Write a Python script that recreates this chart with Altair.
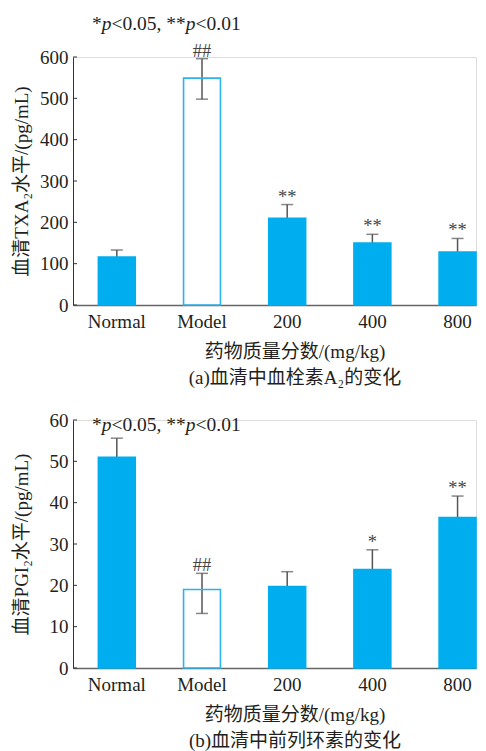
import altair as alt
import pandas as pd

# ---------------- data ----------------
groups = ["Normal", "Model", "200", "400", "800"]
hollow = [False, True, False, False, False]

txa_mean = [116, 549, 210, 150, 128]
txa_up = [17, 47, 33, 21, 33]
txa_down = [17, 51, 33, 21, 33]
txa_sig = ["", "##", "**", "**", "**"]
txa_ticks = [0, 100, 200, 300, 400, 500, 600]

pgi_mean = [51, 19, 19.7, 23.8, 36.4]
pgi_up = [4.6, 3.9, 3.6, 4.8, 5.2]
pgi_down = [4.6, 5.8, 3.6, 4.8, 5.2]
pgi_sig = ["", "##", "", "*", "**"]
pgi_ticks = [0, 10, 20, 30, 40, 50, 60]

x_title = "药物质量分数/(mg/kg)"
caption_a = "(a)血清中血栓素A₂的变化"
caption_b = "(b)血清中前列环素的变化"
ytitle_a = "血清TXA₂水平/(pg/mL)"
ytitle_b = "血清PGI₂水平/(pg/mL)"

# ---------------- style ----------------
SERIF = "Liberation Serif, Noto Sans CJK SC"
FS = 19
FS_NOTE = 19.5
TXT = "#231F20"
BLUE = "#00AEEF"
HOLLOW_STROKE = "#2FB2EA"
ERR = "#555555"
W, H = 403, 248


def annotation(y_px):
    segs = [("*", False), ("p", True), ("<0.05, **", False), ("p", True), ("<0.01", False)]
    widths = [0.5, 0.5, 3.814, 0.5, 2.314]
    x = 19.0
    layers = []
    for (t, it), w in zip(segs, widths):
        layers.append(
            alt.Chart(pd.DataFrame({"t": [t]}))
            .mark_text(align="left", baseline="middle", font=SERIF, fontSize=FS_NOTE,
                       fontStyle="italic" if it else "normal", color=TXT)
            .encode(text="t:N", x=alt.value(x), y=alt.value(y_px))
        )
        x += w * FS_NOTE
    return layers


def panel(mean, up, down, sig, ticks, ymax, ytitle, caption, annot_y):
    df = pd.DataFrame({
        "g": groups,
        "v": mean,
        "hi": [m + u for m, u in zip(mean, up)],
        "lo": [m - d for m, d in zip(mean, down)],
        "sig": sig,
        "hollow": hollow,
    })
    xax = alt.Axis(ticks=False, labelAngle=0, labelPadding=7, labelFont=SERIF,
                   labelFontSize=FS, labelColor=TXT, domainColor="#666666",
                   domainWidth=1.5, title=[x_title, caption], titleFont=SERIF,
                   titleFontSize=FS, titleFontWeight="normal", titleColor=TXT,
                   titleX=221.5, titleY=37, titleAlign="center",
                   titleBaseline="top", titleLineHeight=26, grid=False)
    yax = alt.Axis(values=ticks, ticks=False, labelPadding=5, labelFont=SERIF,
                   labelFontSize=FS, labelColor=TXT, domainColor="#333333",
                   domainWidth=1, grid=False, title=ytitle, titleFont=SERIF,
                   titleFontSize=FS, titleFontWeight="normal", titleColor=TXT,
                   titleX=-52, titleY=H / 2, titleAngle=270, titleAlign="center",
                   titleBaseline="middle")
    xs = alt.Scale(paddingInner=0.567, paddingOuter=0.149, align=1)
    ys = alt.Scale(domain=[0, ymax], nice=False, zero=True)
    X = alt.X("g:N", sort=groups, scale=xs, axis=xax)
    Y = alt.Y("v:Q", scale=ys, axis=yax)

    base = alt.Chart(df)
    whisk = base.mark_rule(color=ERR, strokeWidth=1.5).encode(
        x=X, y=alt.Y("lo:Q", scale=ys, axis=yax), y2="hi:Q")
    cap_hi = base.mark_tick(color=ERR, size=12, thickness=1.5, orient="horizontal").encode(
        x=X, y=alt.Y("hi:Q", scale=ys, axis=yax))
    cap_lo = base.mark_tick(color=ERR, size=12, thickness=1.5, orient="horizontal").encode(
        x=X, y=alt.Y("lo:Q", scale=ys, axis=yax))
    bars = base.mark_bar(strokeWidth=1.6).encode(
        x=X, y=Y,
        fill=alt.condition("datum.hollow", alt.value("transparent"), alt.value(BLUE)),
        stroke=alt.condition("datum.hollow", alt.value(HOLLOW_STROKE), alt.value(BLUE)),
    )
    sigtxt = base.mark_text(baseline="alphabetic", dy=-2, font=SERIF, fontSize=18.5,
                            color="#444444").encode(
        x=X, y=alt.Y("hi:Q", scale=ys, axis=yax), text="sig:N")
    tick_df = pd.DataFrame({"t": ticks})
    yticks = alt.Chart(tick_df).mark_rule(color="#333333", strokeWidth=1).encode(
        y=alt.Y("t:Q", scale=ys, axis=yax), x=alt.value(0), x2=alt.value(4))

    layers = [whisk, cap_hi, cap_lo, bars, sigtxt, yticks] + annotation(annot_y)
    return alt.layer(*layers).properties(width=W, height=H)


top = panel(txa_mean, txa_up, txa_down, txa_sig, txa_ticks, 600, ytitle_a, caption_a, -33)
bottom = panel(pgi_mean, pgi_up, pgi_down, pgi_sig, pgi_ticks, 60, ytitle_b, caption_b, 5)

chart = (
    alt.vconcat(top, bottom, spacing=22)
    .properties(padding={"left": 3, "top": 5, "right": 0, "bottom": 0})
    .configure_view(stroke=None)
    .configure(background="white")
)

chart.save("out.html", embed_options={"renderer": "svg", "actions": False})
